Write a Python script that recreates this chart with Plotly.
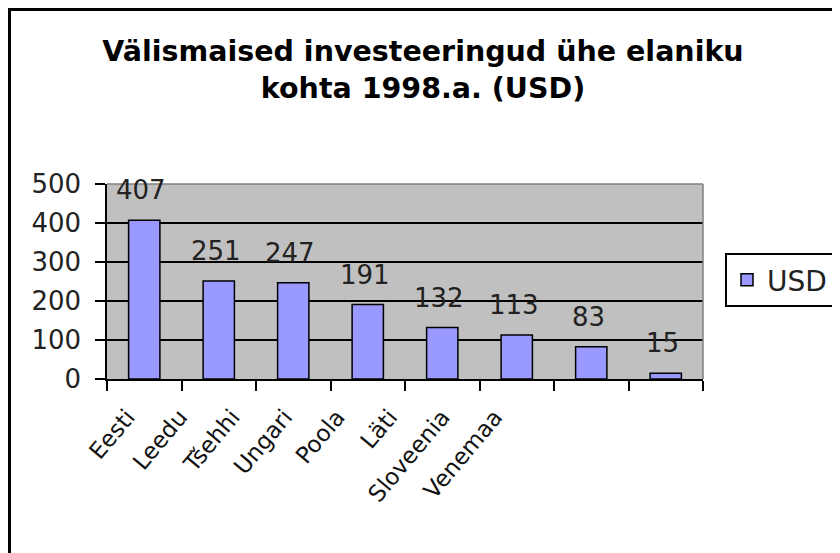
import plotly.graph_objects as go

categories = ["Eesti", "Leedu", "Tšehhi", "Ungari", "Poola", "Läti", "Sloveenia", "Venemaa"]
values = [407, 251, 247, 191, 132, 113, 83, 15]
series_name = "USD"
title_text = "Välismaised investeeringud ühe elaniku<br>kohta 1998.a. (USD)"
y_ticks = [0, 100, 200, 300, 400, 500]

FONT = "DejaVu Sans"
# the page body adds an 8px offset; compensate in margins
OFF = 8
L, T, PW, PH = 107 - OFF, 184 - OFF, 596, 195
W, H = 840, 553
R = W - L - PW
B = H - T - PH

fig = go.Figure()
# helper axis (x) carrying the compressed category labels, as in the original
fig.add_trace(go.Scatter(x=categories, y=values, xaxis="x", yaxis="y", mode="none",
                         showlegend=False, hoverinfo="skip"))
fig.add_trace(go.Bar(
    x=categories, y=values, name=series_name, xaxis="x2", yaxis="y",
    marker=dict(color="#9999FF", line=dict(color="black", width=1.5)),
    showlegend=True, hoverinfo="x+y",
))

for c, v in zip(categories, values):
    fig.add_annotation(x=c, y=v, xref="x2", yref="y", text=str(v), showarrow=False,
                       yanchor="bottom", yshift=13, xshift=-3,
                       font=dict(family=FONT, size=26, color="#222"))

# plot-area grey border top/right
fig.add_shape(type="line", xref="paper", yref="paper", x0=0, x1=1, y0=1, y1=1,
              line=dict(color="#808080", width=1.5))
fig.add_shape(type="line", xref="paper", yref="paper", x0=1, x1=1, y0=0, y1=1,
              line=dict(color="#808080", width=1.5))
# chart area outer border (only top/left visible)
fig.add_shape(type="rect", xref="paper", yref="paper",
              x0=(OFF + 1.5 - 107) / PW, x1=(900 - 107) / PW,
              y0=(379 - 600) / PH, y1=(379 - OFF - 1.5) / PH,
              line=dict(color="black", width=3), layer="above")

label_span = 420 / PW

fig.update_layout(
    width=W, height=H,
    margin=dict(l=L, r=R, t=T, b=B),
    paper_bgcolor="white", plot_bgcolor="#C0C0C0",
    bargap=0.58,
    font=dict(family=FONT, size=24, color="#222"),
    title=dict(text=title_text, x=(423 - OFF) / W, xref="container", xanchor="center",
               y=1 - 53 / H, yref="container", yanchor="top",
               font=dict(family=FONT, size=28.5, color="black", weight="bold")),
    legend=dict(x=(725 - 107) / PW, y=(379 - 280) / PH, xanchor="left", yanchor="middle",
                bordercolor="black", borderwidth=2, bgcolor="white",
                font=dict(family=FONT, size=28, color="#222")),
    xaxis=dict(anchor="y", domain=[0, label_span], showline=False, ticks="",
               showgrid=False, zeroline=False, range=[-0.5, 7.5],
               tickangle=-50, tickfont=dict(family=FONT, size=23, color="#111"),
               ticklabelshift=-6, ticklabelstandoff=19),
    xaxis2=dict(anchor="y", domain=[0, 1], showline=True, linecolor="black", linewidth=1.5,
                ticks="outside", tickson="boundaries", ticklen=10, tickwidth=1.5,
                tickcolor="black", showticklabels=False, showgrid=False),
    yaxis=dict(range=[0, 500], tickvals=y_ticks, showline=True, linecolor="black",
               linewidth=1.5, ticks="outside", ticklen=10, tickwidth=1.5, tickcolor="black",
               gridcolor="black", gridwidth=1.5, zeroline=False,
               tickfont=dict(family=FONT, size=26, color="#222"), ticklabelstandoff=9),
)

fig.write_html("out.html")
